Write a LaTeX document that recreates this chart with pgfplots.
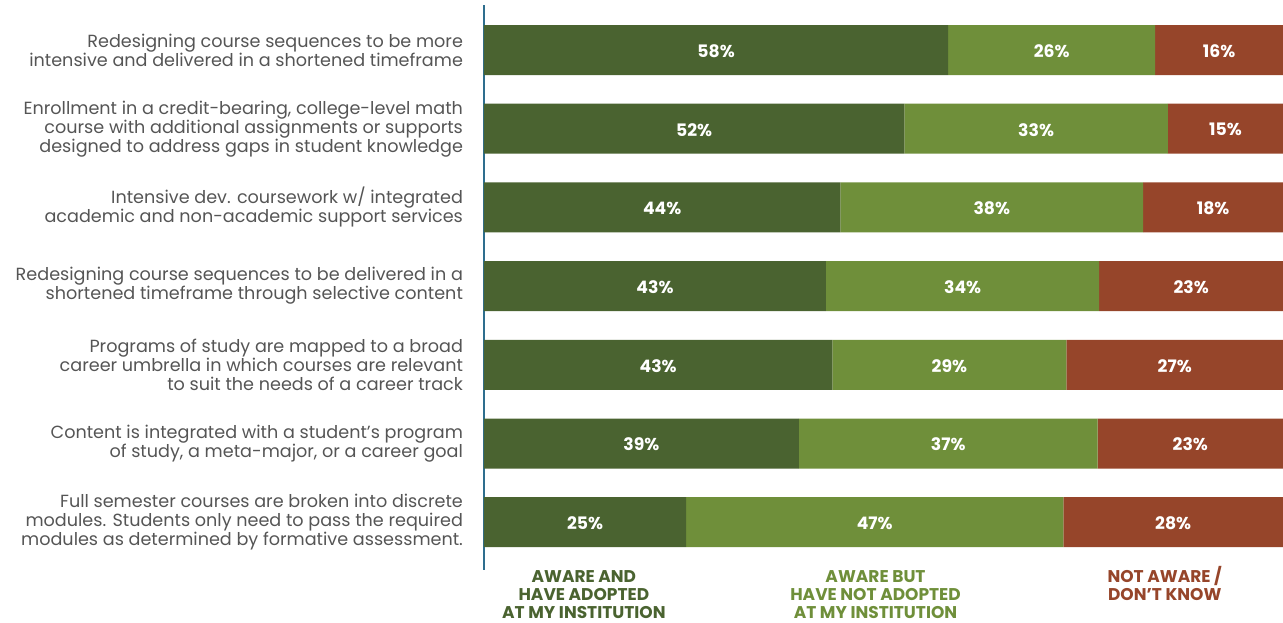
\documentclass[border=0pt]{standalone}
\usepackage{pgfplots}
\pgfplotsset{compat=1.18}
\usepackage{pgfplotstable}
\usepackage{fontspec}
\setmainfont{Poppins}

\definecolor{adopted}{HTML}{4A6330}
\definecolor{notadopted}{HTML}{6F8F3A}
\definecolor{notaware}{HTML}{96452A}
\definecolor{axisblue}{HTML}{2E6E8E}
\definecolor{labelgray}{HTML}{555555}

% segment widths as drawn, and the printed percentages
\pgfplotstableread{
idx a    b    c    la lb lc
0   58.1 25.9 16.0 58 26 16
1   52.6 33.0 14.4 52 33 15
2   44.6 37.9 17.5 44 38 18
3   42.8 34.2 23.0 43 34 23
4   43.6 29.3 27.1 43 29 27
5   39.4 37.4 23.2 39 37 23
6   25.3 47.2 27.5 25 47 28
}\datatable

\begin{document}
\begin{tikzpicture}
\begin{axis}[
    scale only axis,
    width=399.5pt, height=282.5pt,
    xbar stacked,
    bar width=25pt,
    xmin=0, xmax=100,
    ymin=-0.572, ymax=6.607,
    y dir=reverse,
    hide x axis,
    axis y line*=left,
    y axis line style={axisblue, line width=0.9pt, -},
    ytick={0,...,6},
    major tick length=0pt,
    yticklabels={
        {Redesigning course sequences to be more\\intensive and delivered in a shortened timeframe},
        {Enrollment in a credit-bearing, college-level math\\course with additional assignments or supports\\designed to address gaps in student knowledge},
        {Intensive dev. coursework w/ integrated\\academic and non-academic support services},
        {Redesigning course sequences to be delivered in a\\shortened timeframe through selective content},
        {Programs of study are mapped to a broad\\career umbrella in which courses are relevant\\to suit the needs of a career track},
        {Content is integrated with a student’s program\\of study, a meta-major, or a career goal},
        {Full semester courses are broken into discrete\\modules. Students only need to pass the required\\modules as determined by formative assessment.}
    },
    yticklabel style={align=right, font=\fontsize{8.8}{9.5}\selectfont,
        text=labelgray, xshift=-7pt},
    point meta=explicit symbolic,
    nodes near coords={\pgfplotspointmeta\%},
    nodes near coords style={anchor=center, text=white, yshift=-0.5pt,
        font=\fontsize{8.6}{9.5}\selectfont\bfseries},
    clip=false,
]
\addplot[fill=adopted, draw=none]
    table[x=a, y=idx, meta=la] {\datatable};
\addplot[fill=notadopted, draw=none]
    table[x=b, y=idx, meta=lb] {\datatable};
\addplot[fill=notaware, draw=none]
    table[x=c, y=idx, meta=lc] {\datatable};

\node[anchor=north, align=center, text=adopted, inner sep=0pt,
    font=\fontsize{8.5}{9}\selectfont\bfseries]
    at (axis cs:12.5,6.55) {\vphantom{/}AWARE AND\\HAVE ADOPTED\\AT MY INSTITUTION};
\node[anchor=north, align=center, text=notadopted, inner sep=0pt,
    font=\fontsize{8.5}{9}\selectfont\bfseries]
    at (axis cs:49.0,6.55) {\vphantom{/}AWARE BUT\\HAVE NOT ADOPTED\\AT MY INSTITUTION};
\node[anchor=north, align=center, text=notaware, inner sep=0pt,
    font=\fontsize{8.5}{9}\selectfont\bfseries]
    at (axis cs:85.2,6.55) {\vphantom{/}NOT AWARE /\\DON’T KNOW};
\end{axis}
\pgfresetboundingbox
\path ([shift={(-242pt,-26pt)}]current axis.south west)
    rectangle ([shift={(0pt,2.5pt)}]current axis.north east);
\end{tikzpicture}
\end{document}
